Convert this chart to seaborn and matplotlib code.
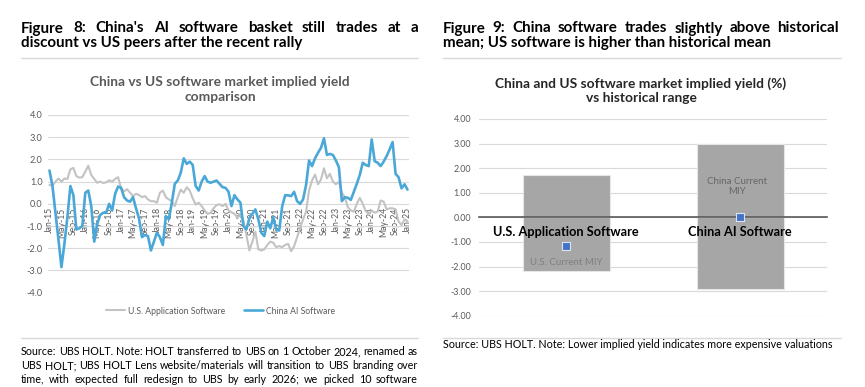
import matplotlib
matplotlib.use('Agg')
import matplotlib.pyplot as plt
from matplotlib.lines import Line2D
import seaborn as sns
import pandas as pd

# monthly, Jan-15 .. Jan-25
months = pd.date_range('2015-01-01', periods=121, freq='MS')
month_labels = [d.strftime('%b-%y') for d in months]

us_app_sw = [0.85, 0.82, 1.0, 1.14, 1.0, 1.14, 1.12, 1.55, 1.62, 1.25,
             1.18, 1.2, 1.45, 1.72, 1.3, 1.12, 0.95, 1.0, 0.94, 0.97,
             1.06, 1.0, 1.12, 1.2, 0.7, 0.56, 0.66, 0.5, 0.35, 0.45,
             0.4, 0.3, 0.35, 0.2, 0.12, 0.12, 0.05, 0.5, 0.6, 0.3,
             0.2, 0.12, -0.1, 0.3, 0.64, 0.5, 0.75, 0.6, 0.25, -0.03,
             0.05, -0.1, -0.3, -0.45, -0.4, -0.2, -0.05, -0.02, -0.1, 0.0,
             -0.3, -0.38, -0.45, -0.63, -0.5, -0.75, -1.4, -2.1, -1.7, -1.25,
             -2.05, -2.1, -2.05, -1.85, -1.7, -1.75, -1.95, -1.9, -1.95, -1.85,
             -1.8, -2.13, -1.9, -1.5, -1.1, -0.7, -0.35, 0.6, 1.05, 1.32,
             0.88, 1.1, 1.6, 1.15, 1.35, 1.0, 0.88, 1.0, 0.5, 0.3,
             -0.15, -0.3, -0.35, 0.0, 0.27, 0.0, -0.33, -0.45, -0.3, -0.4,
             -0.35, 0.15, 0.1, -0.25, -0.2, -0.2, -0.25, -0.8, -0.95, -0.7,
             -0.78]

china_ai_sw = [1.5, 0.8, -0.4, -1.6, -2.85, -1.8, -0.6, 0.8, 0.4, -1.15,
               -1.1, -1.0, 0.5, 0.6, -0.1, -1.7, -0.9, -0.5, -0.4, -0.4,
               0.0, -0.3, 0.45, 0.78, 0.72, 0.3, 0.15, 0.1, 0.3, -0.2,
               -0.65, -1.5, -1.4, -1.45, -2.1, -1.7, -1.3, -1.5, -1.85, -0.55,
               -0.7, 0.05, 0.9, 1.05, 1.4, 2.05, 1.8, 1.9, 1.75, 0.8,
               0.6, 1.0, 1.25, 1.0, 0.95, 1.0, 1.05, 0.9, 0.75, 0.72,
               0.55, -0.1, 0.39, 0.2, 0.05, -1.0, -1.15, -0.65, -0.45, -0.25,
               -0.7, -1.3, -1.45, -0.8, -1.1, -0.6, -1.15, -1.2, -0.1, 0.39,
               0.38, 0.35, 0.54, 0.12, 0.0, 0.2, 0.85, 1.95, 1.7, 2.05,
               2.3, 2.52, 2.95, 2.2, 2.25, 2.2, 1.95, 1.65, 0.12, 0.3,
               0.27, 0.18, 0.54, 0.9, 1.3, 1.85, 1.75, 1.7, 2.9, 1.92,
               1.85, 1.7, 1.9, 2.15, 2.45, 2.78, 1.35, 1.2, 0.7, 0.88,
               0.64]

categories = ['U.S. Application Software', 'China AI Software']
range_high = [1.72, 2.97]
range_low = [-2.18, -2.92]
current_miy = [-1.15, 0.0]

W, H = 865, 387
sns.set_theme(style='white')
plt.rcParams['font.family'] = ['Lato', 'DejaVu Sans']

fig = plt.figure(figsize=(W / 100, H / 100), dpi=100)
fig.patch.set_facecolor('white')


def fx(x):
    return x / W


def fy(y):
    return 1 - y / H


def justify(line, x0, x1, y, **kw):
    words = line.split()
    texts = [fig.text(0, fy(y), w, va='baseline', **kw) for w in words]
    r = fig.canvas.get_renderer()
    widths = [t.get_window_extent(r).width for t in texts]
    gap = (x1 - x0 - sum(widths)) / (len(words) - 1)
    x = x0
    for t, w in zip(texts, widths):
        t.set_x(fx(x))
        x += w + gap


title_kw = dict(fontsize=10.9, fontweight='bold', color='black')
src_kw = dict(fontsize=7.75, color='black')
sub_kw = dict(ha='center', va='baseline', fontsize=9.9, fontweight='bold')

# ---- left panel texts
justify("Figure 8: China's AI software basket still trades at a", 21, 418, 32.5, **title_kw)
fig.text(fx(21), fy(47.5), "discount vs US peers after the recent rally", va='baseline', **title_kw)
fig.add_artist(Line2D([fx(21), fx(418)], [fy(58), fy(58)], color='#d9d9d9', lw=1))
fig.text(fx(220), fy(86.5), "China vs US software market implied yield", color='#595959', **sub_kw)
fig.text(fx(220), fy(101), "comparison", color='#595959', **sub_kw)
fig.add_artist(Line2D([fx(21), fx(418)], [fy(338), fy(338)], color='#d9d9d9', lw=1))
justify("Source: UBS HOLT. Note: HOLT transferred to UBS on 1 October 2024, renamed as",
        21, 418, 355, **src_kw)
justify("UBS HOLT; UBS HOLT Lens website/materials will transition to UBS branding over",
        21, 418, 369, **src_kw)
justify("time, with expected full redesign to UBS by early 2026; we picked 10 software",
        21, 418, 382.7, **src_kw)

# ---- right panel texts
justify("Figure 9: China software trades slightly above historical", 443, 839, 32.5, **title_kw)
fig.text(fx(443), fy(47.5), "mean; US software is higher than historical mean", va='baseline', **title_kw)
fig.add_artist(Line2D([fx(443), fx(841)], [fy(58), fy(58)], color='#d9d9d9', lw=1))
fig.text(fx(641), fy(87.5), "China and US software market implied yield (%)", color='#262626', **sub_kw)
fig.text(fx(641), fy(101.5), "vs historical range", color='#262626', **sub_kw)
fig.add_artist(Line2D([fx(443), fx(841)], [fy(337.7), fy(337.7)], color='#d9d9d9', lw=1))
fig.text(fx(443), fy(348.3), "Source: UBS HOLT. Note: Lower implied yield indicates more expensive valuations",
         va='baseline', **src_kw)

# ---- left chart
gray = '#c3c3c3'
blue = '#4aa8d8'
ax1 = fig.add_axes([fx(48), fy(292.7), (409 - 48) / W, (292.7 - 115) / H])
idx = list(range(len(months)))
sns.lineplot(x=idx, y=us_app_sw, color=gray, lw=1.5, label='U.S. Application Software', ax=ax1)
sns.lineplot(x=idx, y=china_ai_sw, color=blue, lw=1.9, label='China AI Software', ax=ax1)
ax1.spines['bottom'].set_position(('data', 0))
for s in ax1.spines.values():
    s.set_visible(False)
ax1.set_xlim(-0.5, 120.5)
ax1.set_ylim(-4, 4)
ax1.set_yticks(range(-4, 5), [f'{v:.1f}' for v in range(-4, 5)])
ax1.set_xticks(idx[::4], month_labels[::4], rotation=90)
ax1.grid(axis='y', color='#d9d9d9', lw=0.8)
ax1.set_axisbelow(True)
ax1.tick_params(axis='x', length=0, pad=2.5, labelsize=6.2, labelcolor='#595959')
ax1.tick_params(axis='y', length=0, pad=4, labelsize=6.6, labelcolor='#595959')
h, l = ax1.get_legend_handles_labels()
ax1.legend(h, l, loc='center', bbox_to_anchor=(fx(220.5), fy(311)), bbox_transform=fig.transFigure,
           ncol=2, frameon=False, fontsize=6.2, labelcolor='#595959', handlelength=2.2,
           handletextpad=0.3, columnspacing=2.2)

# ---- right chart
bar_gray = '#a6a6a6'
ax2 = fig.add_axes([fx(479.3), fy(315.7), 348 / W, (315.7 - 119) / H])
sns.barplot(x=categories, y=range_high, color=bar_gray, saturation=1, width=0.5,
            edgecolor='#e6e6e6', linewidth=0.8, ax=ax2)
sns.barplot(x=categories, y=range_low, color=bar_gray, saturation=1, width=0.5,
            edgecolor='#e6e6e6', linewidth=0.8, ax=ax2)
pos = list(range(len(categories)))
sns.scatterplot(x=pos, y=current_miy, marker='s', s=28, color='#4472c4',
                edgecolor='#dbe4f5', linewidth=0.8, zorder=5, ax=ax2)
ax2.text(pos[0], -1.84, 'U.S. Current MIY', ha='center', va='center', fontsize=7, color='#7f7f7f')
ax2.text(pos[1] - 0.02, 1.25, 'China Current\nMIY', ha='center', va='center', fontsize=7,
         color='#666666', linespacing=1.2)
for p, c in zip(pos, categories):
    ax2.text(p, -0.6, c, ha='center', va='center', fontsize=9.2, fontweight='bold',
             color='black', zorder=6)
for s in ax2.spines.values():
    s.set_visible(False)
ax2.spines['bottom'].set_visible(True)
ax2.spines['bottom'].set_position(('data', 0))
ax2.spines['bottom'].set_color('#595959')
ax2.spines['bottom'].set_linewidth(1.2)
ax2.set_xlim(-0.5, 1.5)
ax2.set_ylim(-4, 4)
ax2.set_yticks(range(-4, 5), [f'{v:.2f}' for v in range(-4, 5)])
ax2.set_xticks(pos, ['', ''])
ax2.grid(axis='y', color='#d9d9d9', lw=0.8)
ax2.set_axisbelow(True)
ax2.set_xlabel('')
ax2.tick_params(axis='x', length=0)
ax2.tick_params(axis='y', length=0, pad=6, labelsize=6.4, labelcolor='#595959')

fig.savefig('out.png', dpi=100, facecolor='white')
